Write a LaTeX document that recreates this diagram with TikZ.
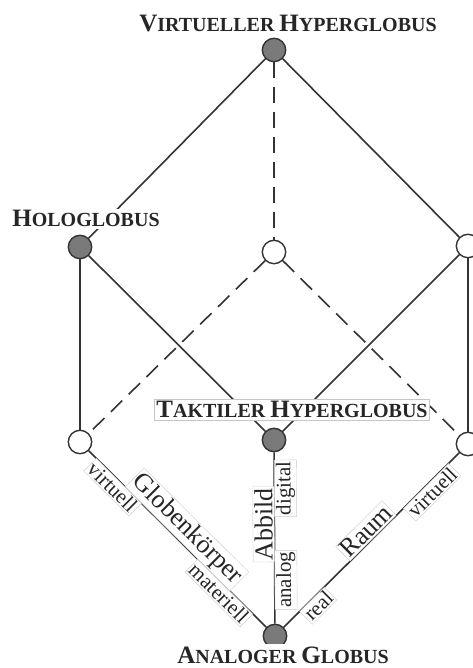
\documentclass[tikz,border=0pt]{standalone}
\usepackage{fontspec}
\setmainfont{Liberation Serif}
\newcommand\capsc[2]{{\fontsize{25}{25}\selectfont #1}{\fontsize{20}{20}\selectfont #2}}
\definecolor{linecol}{HTML}{333333}
\definecolor{nodefill}{HTML}{7A7A7A}
\tikzset{
  vfull/.style={circle, draw=linecol, fill=nodefill, line width=1.4pt, minimum size=23.4pt, inner sep=0pt},
  vopen/.style={circle, draw=linecol, fill=white, line width=1.4pt, minimum size=23.4pt, inner sep=0pt},
  edge/.style={draw=linecol, line width=1.6pt},
  dedge/.style={draw=linecol, line width=1.6pt, dash pattern=on 16pt off 9pt},
  namelbl/.style={text=black!85, font=\bfseries, inner sep=2pt, fill=white},
  boxlbl/.style={text=black!85, font=\bfseries, inner sep=2pt, fill=white, draw=gray!45, line width=0.5pt},
  biglbl/.style={font=\fontsize{26}{26}\selectfont, text=black!85, fill=white, draw=gray!40, line width=0.4pt, inner sep=1.5pt, sloped, allow upside down},
  smalllbl/.style={font=\fontsize{21}{21}\selectfont, text=black!85, fill=white, draw=gray!40, line width=0.4pt, inner sep=1.5pt, sloped, allow upside down},
}
\begin{document}
\begin{tikzpicture}[x=1pt,y=1pt]
\useasboundingbox[fill=white] (0,0) rectangle (472,668);
% vertices
\node[vfull] (T) at (274,618) {};
\node[vfull] (H) at (80,421) {};
\node[vopen] (R1) at (468,422) {};
\node[vopen] (C) at (274,416) {};
\node[vfull] (K) at (274,228) {};
\node[vopen] (L) at (80,226) {};
\node[vopen] (R2) at (468,224) {};
\node[vfull] (A) at (275,32) {};
% edges
\draw[edge] (T) -- (H);
\draw[edge] (T) -- (R1);
\draw[dedge] (T) -- (C);
\draw[edge] (H) -- (L);
\draw[edge] (H) -- (K);
\draw[dedge] (C) -- (L);
\draw[dedge] (C) -- (R2);
\draw[edge] (R1) -- (K);
\draw[edge] (R1) -- (R2);
\draw[edge] (L) -- (A)
  node[smalllbl, pos=0.17, below] (lv) {virtuell}
  node[biglbl, pos=0.5, above] (lg) {Globenkörper}
  node[smalllbl, pos=0.77, below] (lm) {materiell};
\draw[edge] (A) -- (K)
  node[biglbl, pos=0.58, above] (lab) {Abbild}
  node[smalllbl, pos=0.255, below] (lan) {analog}
  node[smalllbl, pos=0.79, below] (ldi) {digital};
\draw[edge] (A) -- (R2)
  node[biglbl, pos=0.51, above] (lr) {Raum}
  node[smalllbl, pos=0.16, below] (lre) {real}
  node[smalllbl, pos=0.81, below] (lvi) {virtuell};
% vertex names
\node[namelbl, anchor=base] (nT) at (288,636) {\capsc{V}{IRTUELLER }\capsc{H}{YPERGLOBUS}};
\node[namelbl, anchor=base] (nH) at (86,441) {\capsc{H}{OLOGLOBUS}};
\node[boxlbl, anchor=base] (nK) at (292,250) {\capsc{T}{AKTILER }\capsc{H}{YPERGLOBUS}};
\node[namelbl, anchor=base] (nA) at (283,5) {\capsc{A}{NALOGER }\capsc{G}{LOBUS}};
\end{tikzpicture}
\end{document}
